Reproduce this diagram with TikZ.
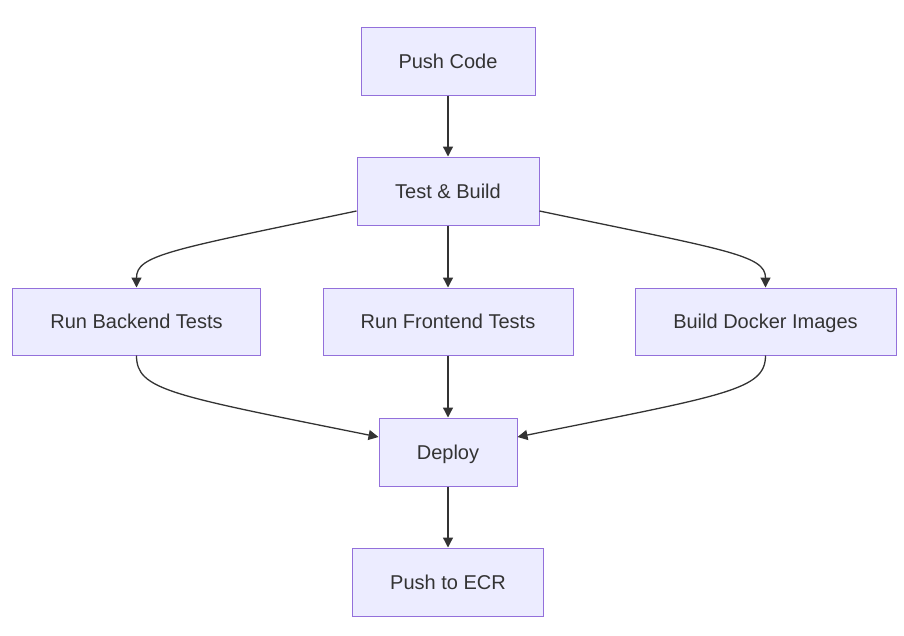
\documentclass[tikz,border=0pt]{standalone}
\usepackage{fontspec}
\setmainfont{Liberation Sans}
\usetikzlibrary{arrows.meta}
\definecolor{nodefill}{HTML}{ECECFF}
\definecolor{nodeline}{HTML}{9370DB}
\definecolor{txt}{HTML}{333333}
\definecolor{edge}{HTML}{333333}
\begin{document}
\begin{tikzpicture}[x=1pt,y=-1pt,
  box/.style={draw=nodeline,fill=nodefill,line width=1pt,text=txt,font=\fontsize{20}{24}\selectfont,inner sep=0pt,text height=16pt,text depth=2pt,anchor=center},
  flow/.style={draw=edge,line width=1.3pt,-{Triangle[length=10pt,width=10pt]}}]
\useasboundingbox (0,0) rectangle (904,635);
\node[box,minimum width=174pt,minimum height=68pt] (push) at (448,61) {Push Code};
\node[box,minimum width=182pt,minimum height=68pt] (tb) at (448,191) {Test \& Build};
\node[box,minimum width=248pt,minimum height=67pt] (be) at (136.5,321.5) {Run Backend Tests};
\node[box,minimum width=250pt,minimum height=67pt] (fe) at (448,321.5) {Run Frontend Tests};
\node[box,minimum width=261pt,minimum height=67pt] (dk) at (765.5,321.5) {Build Docker Images};
\node[box,minimum width=138pt,minimum height=68pt] (dep) at (448,452) {Deploy};
\node[box,minimum width=191pt,minimum height=68pt] (ecr) at (448,582) {Push to ECR};
\draw[flow] (push) -- (tb);
\draw[flow] (tb) -- (fe);
\draw[flow] (fe) -- (dep);
\draw[flow] (dep) -- (ecr);
\draw[flow] (tb.west |- 0,211) .. controls (170,250) and (136.5,255) .. (be.north);
\draw[flow] (tb.east |- 0,211) .. controls (726,250) and (765.5,255) .. (dk.north);
\draw[flow] (be.south) .. controls (136.5,390) and (170,395) .. (dep.west |- 0,437);
\draw[flow] (dk.south) .. controls (765.5,390) and (726,395) .. (dep.east |- 0,437);
\end{tikzpicture}
\end{document}
